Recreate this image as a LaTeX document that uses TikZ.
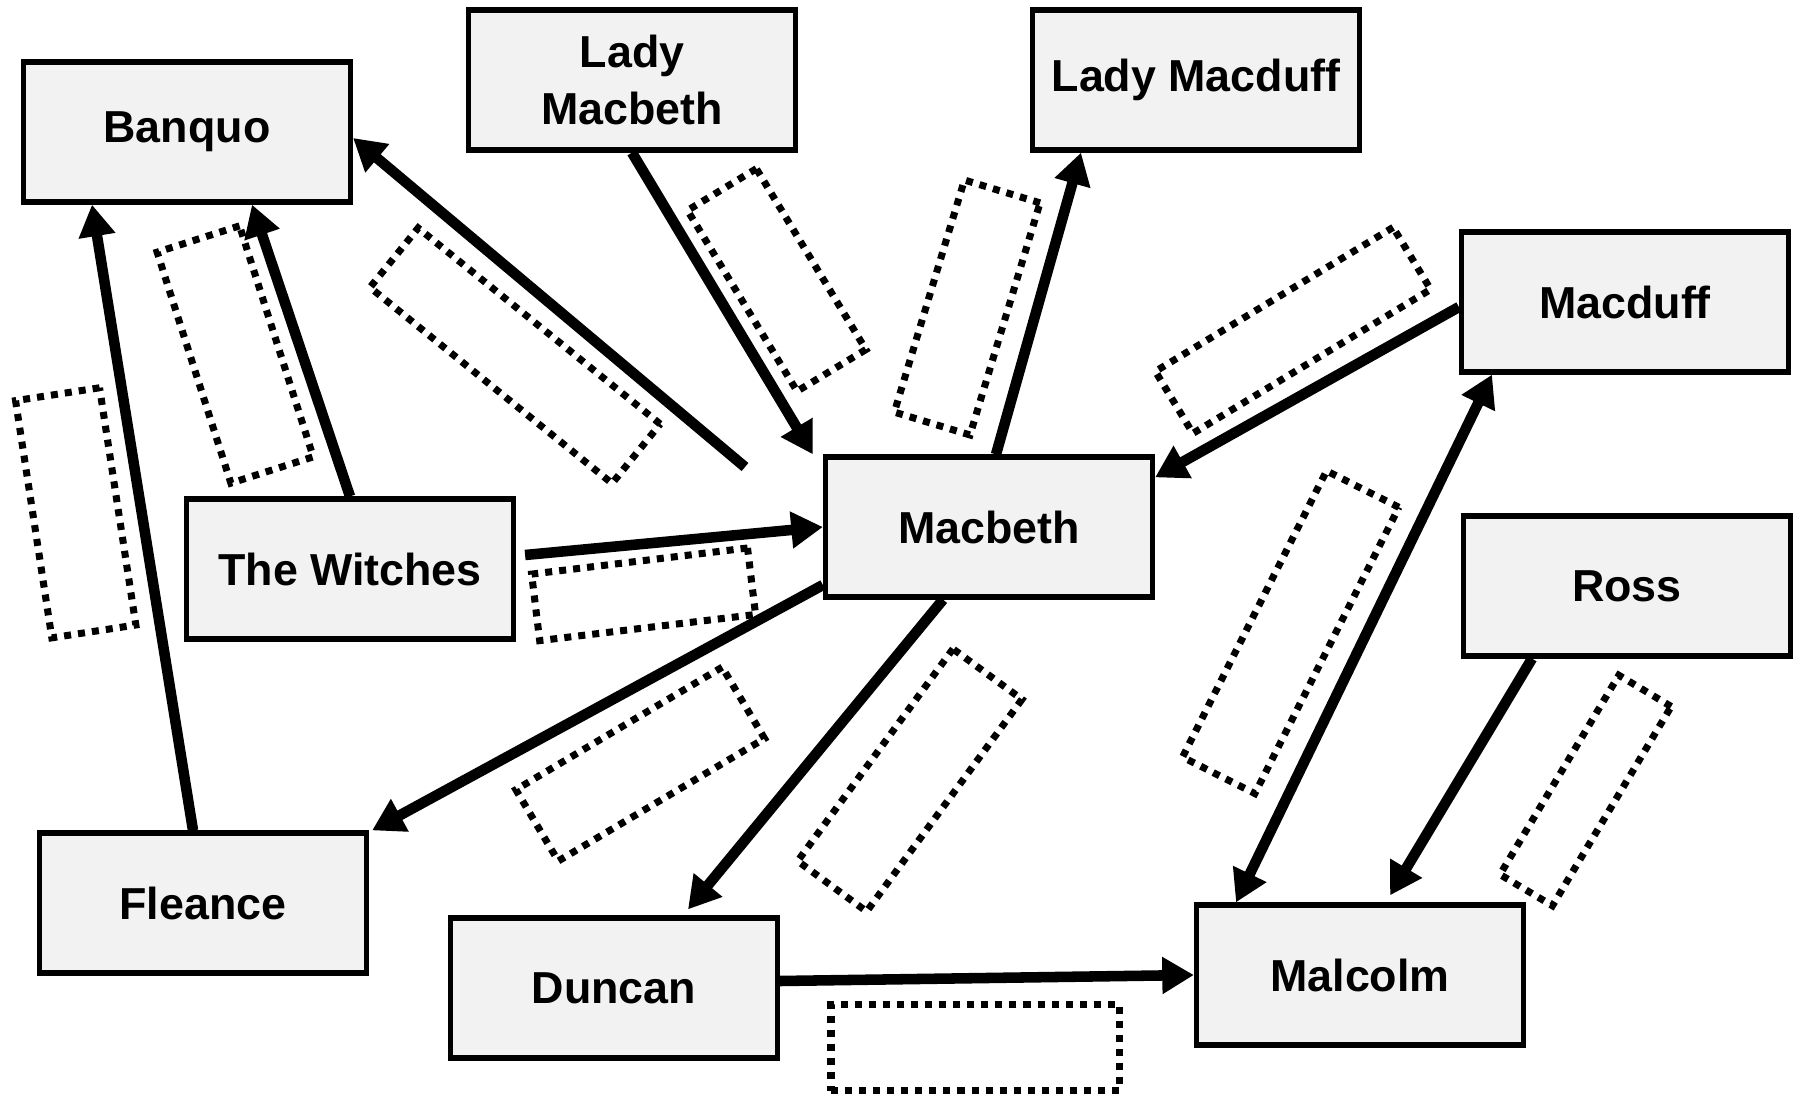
\documentclass[tikz,border=0pt]{standalone}
\usepackage{fontspec}
\setmainfont{Liberation Sans}
\usetikzlibrary{arrows.meta,calc}

\begin{document}
\begin{tikzpicture}[x=0.02cm,y=-0.02cm]
    \tikzstyle{person}=[rectangle,draw=black,fill=black!5,line width=3pt,minimum width=6.54cm,minimum height=2.8cm,align=center,font=\fontsize{25.5}{32}\selectfont\bfseries]
    \tikzstyle{slot}=[rectangle,draw=black,line width=4pt,dash pattern=on 4pt off 4pt,inner sep=0pt]
    \tikzstyle{link}=[-{Triangle[length=18pt,width=20pt]},line width=6pt]
    \useasboundingbox (0,0) rectangle (1799,1095);

    \node[person] (banquo)      at (187,132)  {Banquo};
    \node[person] (ladymacbeth) at (632,80)   {Lady\\Macbeth};
    \node[person] (ladymacduff) at (1196,80)  {Lady Macduff};
    \node[person] (macduff)     at (1625,302) {Macduff};
    \node[person] (macbeth)     at (989,527)  {Macbeth};
    \node[person] (witches)     at (350,569)  {The Witches};
    \node[person] (ross)        at (1627,586) {Ross};
    \node[person] (fleance)     at (203,903)  {Fleance};
    \node[person] (duncan)      at (614,988)  {Duncan};
    \node[person] (malcolm)     at (1360,975) {Malcolm};

    \foreach \x/\y/\w/\h/\a [count=\i] in {75.7/512.8/1.7/4.8/8.7, 235.2/354.5/1.73/4.85/17.7,
            515.1/355.7/6.23/1.53/-39, 776.7/280/1.61/4.23/31.2, 967.2/307.5/1.58/4.85/-16.8,
            1293/330.4/5.56/1.45/31.2, 643.6/594.3/4.35/1.34/6.9, 640.2/764.1/4.8/1.66/30.7,
            909.8/780.2/5.26/1.71/53.8, 1290.7/632.2/1.62/6.41/-26.7, 1585.6/790.5/1.22/4.64/-30.8,
            975.2/1047.5/5.77/1.73/0}
        \node[slot,minimum width=\w cm,minimum height=\h cm,rotate=\a] (slot-\i) at (\x,\y) {};

    \coordinate (loose) at (745,467);

    \draw[link] (witches.north) -- ($(banquo.south)+(65,0)$);
    \draw[link] ($(fleance.north)+(-10,0)$) -- ($(banquo.south)+(-95,0)$);
    \draw[link] (loose) -- ($(banquo.east)+(0,6)$);
    \draw[link] (ladymacbeth.south) -- ($(macbeth.north west)+(-10,0)$);
    \draw[link] ($(macbeth.north)+(7,0)$) -- ($(ladymacduff.south)+(-115,0)$);
    \draw[link] ($(macduff.west)+(0,5)$) -- ($(macbeth.north east)+(0,23)$);
    \draw[link] ($(witches.east)+(9,-14)$) -- (macbeth.west);
    \draw[link] ($(macbeth.west)+(0,58)$) -- ($(fleance.north east)+(3,0)$);
    \draw[link] ($(macbeth.south)+(-46,0)$) -- ($(duncan.north)+(74,-6)$);
    \draw[link,{Triangle[length=18pt,width=20pt]}-{Triangle[length=18pt,width=20pt]}] ($(malcolm.north)+(-124,0)$) -- ($(macduff.south)+(-133,0)$);
    \draw[link] ($(ross.south)+(-95,0)$) -- ($(malcolm.north)+(30,-7)$);
    \draw[link] ($(duncan.east)+(0,-7)$) -- (malcolm.west);
\end{tikzpicture}
\end{document}
